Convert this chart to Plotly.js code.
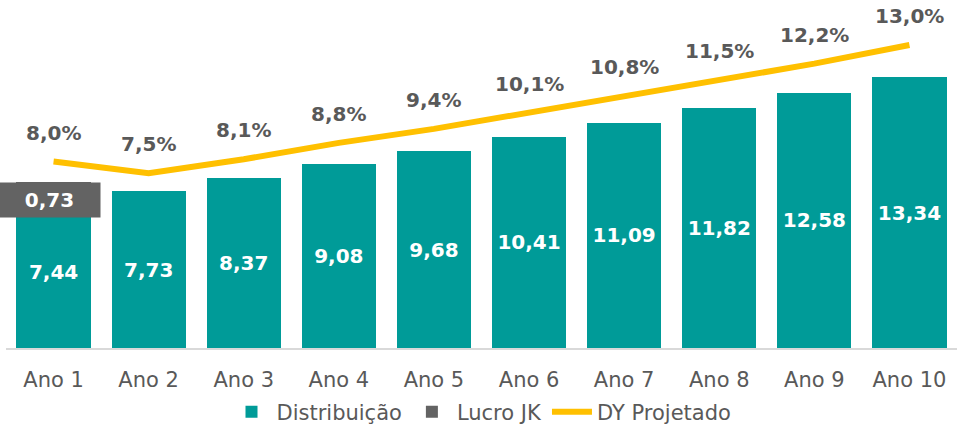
<!DOCTYPE html>
<html>
<head>
<meta charset="utf-8">
<script src="https://cdn.plot.ly/plotly-3.0.1.min.js"></script>
<style>
html,body{margin:0;padding:0;background:#fff;}
#chart{width:966px;height:426px;}
</style>
</head>
<body>
<div id="chart"></div>
<script>
const categories = ['Ano 1','Ano 2','Ano 3','Ano 4','Ano 5','Ano 6','Ano 7','Ano 8','Ano 9','Ano 10'];
const distribuicao = [7.44, 7.73, 8.37, 9.08, 9.68, 10.41, 11.09, 11.82, 12.58, 13.34];
const lucroJK = [0.73, 0, 0, 0, 0, 0, 0, 0, 0, 0];
const dyProjetado = [8.0, 7.5, 8.1, 8.8, 9.4, 10.1, 10.8, 11.5, 12.2, 13.0];

const FONT = 'DejaVu Sans, Verdana, sans-serif';
const TEAL = '#009B98';
const GRAY = '#636363';
const YELLOW = '#FFC000';
const TXT = '#595959';

const fmt = (v, d) => v.toFixed(d).replace('.', ',');

const traces = [
  {
    type: 'bar', name: 'Distribuição', x: categories, y: distribuicao,
    marker: {color: TEAL},
    text: distribuicao.map(v => fmt(v, 2)),
    textposition: 'inside', insidetextanchor: 'middle',
    textfont: {family: FONT, size: 20, color: '#ffffff', weight: 'bold'},
    hoverinfo: 'skip'
  },
  {
    type: 'bar', name: 'Lucro JK', x: categories, y: lucroJK,
    marker: {color: GRAY}, hoverinfo: 'skip'
  },
  {
    type: 'scatter', mode: 'lines', name: 'DY Projetado', x: categories, y: dyProjetado,
    yaxis: 'y2', line: {color: YELLOW, width: 6}, hoverinfo: 'skip'
  }
];

const annotations = dyProjetado.map((v, i) => ({
  x: categories[i], y: v, xref: 'x', yref: 'y2', yshift: 29,
  text: fmt(v, 1) + '%', showarrow: false,
  font: {family: FONT, size: 20, color: TXT, weight: 'bold'}
}));

lucroJK.forEach((v, i) => {
  if (v > 0) {
    annotations.push({
      x: categories[i], y: distribuicao[i] + v / 2, xref: 'x', yref: 'y', yshift: -10, xshift: -4,
      text: fmt(v, 2), showarrow: false, bgcolor: GRAY,
      width: 95, height: 28, borderpad: 3,
      font: {family: FONT, size: 20, color: '#ffffff', weight: 'bold'}
    });
  }
});

const layout = {
  width: 966, height: 426,
  margin: {l: 6, r: 9, t: 10, b: 78, autoexpand: false},
  paper_bgcolor: '#ffffff', plot_bgcolor: '#ffffff',
  barmode: 'stack', bargap: 0.22,
  separators: ',.',
  showlegend: true,
  legend: {orientation: 'h', x: 0.5, xanchor: 'center', y: -0.19, yanchor: 'middle',
           itemwidth: 40,
           font: {family: FONT, size: 21, color: TXT}, traceorder: 'normal'},
  xaxis: {
    range: [-0.5, 9.5],
    showgrid: false, zeroline: false, showline: true, linecolor: '#D9D9D9', linewidth: 2,
    ticks: 'outside', ticklen: 12, tickcolor: 'rgba(0,0,0,0)',
    tickfont: {family: FONT, size: 21, color: TXT}
  },
  yaxis: {range: [0, 16.65], visible: false, fixedrange: true},
  yaxis2: {range: [0, 14.5], overlaying: 'y', side: 'right', visible: false},
  annotations: annotations
};

Plotly.newPlot('chart', traces, layout, {displayModeBar: false, staticPlot: true});
</script>
</body>
</html>
